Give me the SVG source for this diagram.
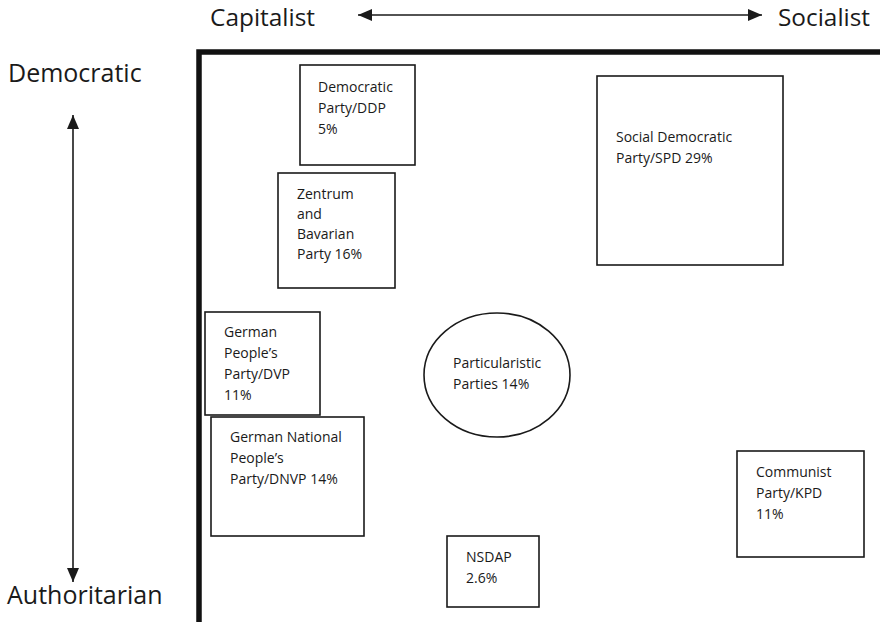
<svg xmlns="http://www.w3.org/2000/svg" width="880" height="622" viewBox="0 0 880 622">
<defs>
<style>
.axis{font-family:"Open Sans","Liberation Sans",sans-serif;font-size:25px;fill:#1a1a1a}
.top{font-size:24px}
.lbl{font-family:"Open Sans","Liberation Sans",sans-serif;font-size:14px;fill:#1a1a1a}
.box{fill:#fff;stroke:#1a1a1a;stroke-width:1.6}
.arr{stroke:#1a1a1a;stroke-width:1.6;fill:none}
.frame{fill:none;stroke:#111;stroke-width:5.5}
</style>
<marker id="ah" viewBox="0 0 14 12" refX="14" refY="6" markerWidth="14" markerHeight="12" markerUnits="userSpaceOnUse" orient="auto-start-reverse">
<path d="M0,0 L14,6 L0,12 z" fill="#1a1a1a"/>
</marker>
</defs>
<rect width="880" height="622" fill="#fff"/>
<g id="axes">
<text class="axis top" x="210" y="26" textLength="105" lengthAdjust="spacingAndGlyphs">Capitalist</text>
<text class="axis top" x="778" y="26" textLength="92" lengthAdjust="spacingAndGlyphs">Socialist</text>
<text class="axis" x="8" y="82">Democratic</text>
<text class="axis" x="7" y="604">Authoritarian</text>
</g>
<g id="connectors">
<line class="arr" x1="358" y1="15" x2="762" y2="15" marker-start="url(#ah)" marker-end="url(#ah)"/>
<line class="arr" x1="73" y1="115" x2="73" y2="582" marker-start="url(#ah)" marker-end="url(#ah)"/>
</g>
<g id="frame">
<path class="frame" d="M199,625 V52 H883"/>
</g>
<g id="ddp">
<rect class="box" x="300" y="65" width="115" height="100"/>
<text class="lbl" x="318" y="92">Democratic</text>
<text class="lbl" x="318" y="113">Party/DDP</text>
<text class="lbl" x="318" y="134">5%</text>
</g>
<g id="zentrum">
<rect class="box" x="278" y="173" width="117" height="115"/>
<text class="lbl" x="297" y="199">Zentrum</text>
<text class="lbl" x="297" y="219">and</text>
<text class="lbl" x="297" y="239">Bavarian</text>
<text class="lbl" x="297" y="259">Party 16%</text>
</g>
<g id="spd">
<rect class="box" x="597" y="76" width="186" height="189"/>
<text class="lbl" x="616" y="142">Social Democratic</text>
<text class="lbl" x="616" y="163">Party/SPD 29%</text>
</g>
<g id="dvp">
<rect class="box" x="205" y="312" width="115" height="103"/>
<text class="lbl" x="224" y="337">German</text>
<text class="lbl" x="224" y="358">People’s</text>
<text class="lbl" x="224" y="379">Party/DVP</text>
<text class="lbl" x="224" y="400">11%</text>
</g>
<g id="dnvp">
<rect class="box" x="211" y="417" width="153" height="119"/>
<text class="lbl" x="230" y="442">German National</text>
<text class="lbl" x="230" y="463">People’s</text>
<text class="lbl" x="230" y="484">Party/DNVP 14%</text>
</g>
<g id="particularistic">
<ellipse class="box" cx="497" cy="375" rx="73" ry="62"/>
<text class="lbl" x="453" y="368">Particularistic</text>
<text class="lbl" x="453" y="389">Parties 14%</text>
</g>
<g id="nsdap">
<rect class="box" x="447" y="536" width="92" height="71"/>
<text class="lbl" x="466" y="562">NSDAP</text>
<text class="lbl" x="466" y="583">2.6%</text>
</g>
<g id="kpd">
<rect class="box" x="737" y="451" width="127" height="106"/>
<text class="lbl" x="756" y="477">Communist</text>
<text class="lbl" x="756" y="498">Party/KPD</text>
<text class="lbl" x="756" y="519">11%</text>
</g>
</svg>
